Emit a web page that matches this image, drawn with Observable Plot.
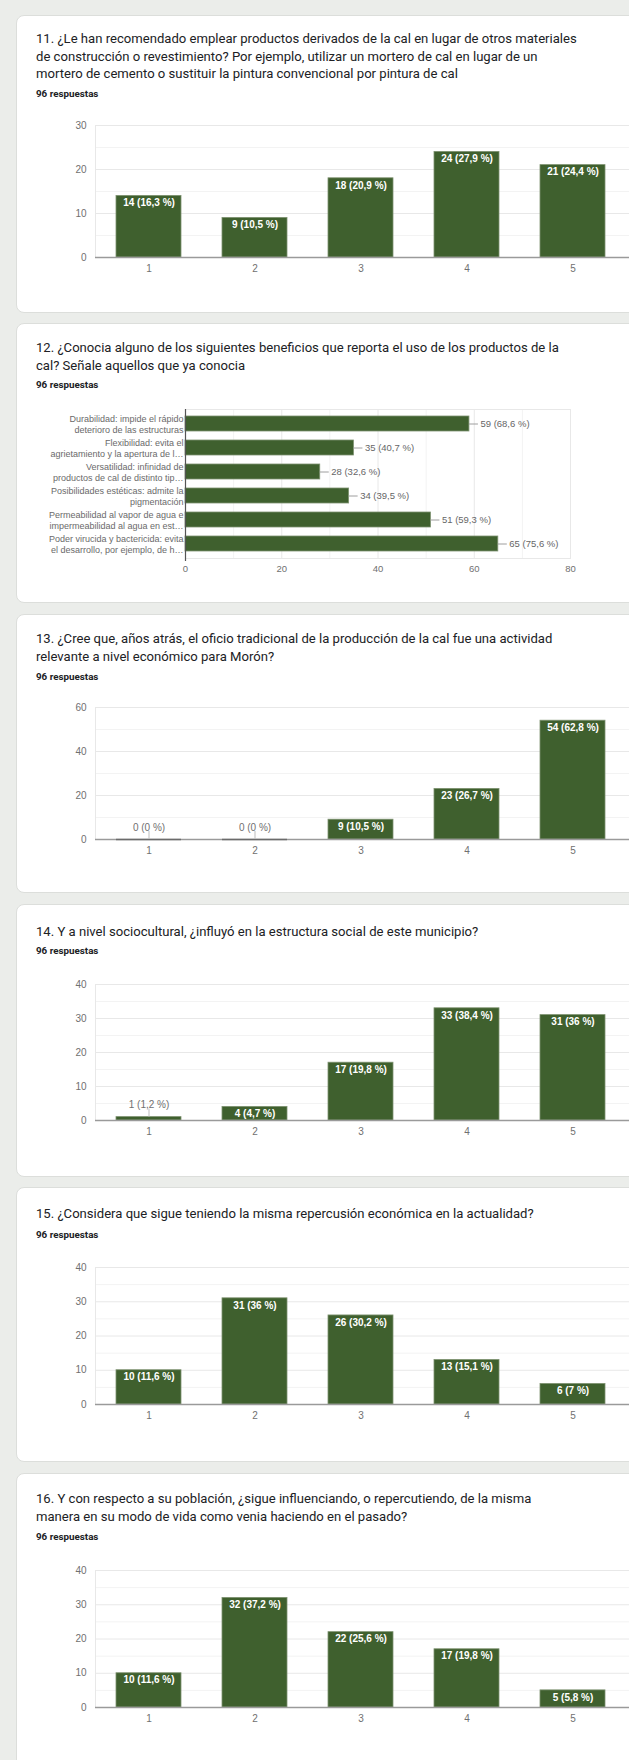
<!DOCTYPE html>
<html>
<head>
<meta charset="utf-8">
<script src="https://cdn.jsdelivr.net/npm/d3@7"></script>
<script src="https://cdn.jsdelivr.net/npm/@observablehq/plot@0.6"></script>
<style>
  html, body { margin: 0; padding: 0; }
  body { width: 629px; height: 1760px; overflow: hidden; background: #ebedea; position: relative; }
  .card { position: absolute; left: 16px; width: 660px; background: #fff; border: 1px solid #dcdedb; border-radius: 8px; box-sizing: border-box; }
  .title { position: absolute; left: 36px; font-family: Roboto, "Open Sans", sans-serif; font-size: 13.1px; line-height: 17.5px; color: #202124; white-space: pre; }
  .resp { position: absolute; left: 36px; font-family: Roboto, sans-serif; font-weight: bold; font-size: 9.8px; line-height: 12px; color: #202124; white-space: pre; }
  .chart { position: absolute; left: 0; }
</style>
</head>
<body>
<script>
// ---------- data ----------
const scale5 = ["1", "2", "3", "4", "5"];

const q11Values = [14, 9, 18, 24, 21];
const q11Pct = ["16,3", "10,5", "20,9", "27,9", "24,4"];

const q12Categories = [
  "Durabilidad: impide el rápido\ndeterioro de las estructuras",
  "Flexibilidad: evita el\nagrietamiento y la apertura de l…",
  "Versatilidad: infinidad de\nproductos de cal de distinto tip…",
  "Posibilidades estéticas: admite la\npigmentación",
  "Permeabilidad al vapor de agua e\nimpermeabilidad al agua en est…",
  "Poder virucida y bactericida: evita\nel desarrollo, por ejemplo, de h…"
];
const q12Values = [59, 35, 28, 34, 51, 65];
const q12Pct = ["68,6", "40,7", "32,6", "39,5", "59,3", "75,6"];

const q13Values = [0, 0, 9, 23, 54];
const q13Pct = ["0", "0", "10,5", "26,7", "62,8"];

const q14Values = [1, 4, 17, 33, 31];
const q14Pct = ["1,2", "4,7", "19,8", "38,4", "36"];

const q15Values = [10, 31, 26, 13, 6];
const q15Pct = ["11,6", "36", "30,2", "15,1", "7"];

const q16Values = [10, 32, 22, 17, 5];
const q16Pct = ["11,6", "37,2", "25,6", "19,8", "5,8"];

const ticks30 = [0, 10, 20, 30], minor30 = [5, 15, 25];
const ticks40 = [0, 10, 20, 30, 40], minor40 = [5, 15, 25, 35];
const ticks60 = [0, 20, 40, 60], minor60 = [10, 30, 50];
const ticks80 = [0, 20, 40, 60, 80], minor80 = [10, 30, 50, 70];

const titles = [
  ["11. ¿Le han recomendado emplear productos derivados de la cal en lugar de otros materiales",
   "de construcción o revestimiento? Por ejemplo, utilizar un mortero de cal en lugar de un",
   "mortero de cemento o sustituir la pintura convencional por pintura de cal"],
  ["12. ¿Conocia alguno de los siguientes beneficios que reporta el uso de los productos de la",
   "cal? Señale aquellos que ya conocia"],
  ["13. ¿Cree que, años atrás, el oficio tradicional de la producción de la cal fue una actividad",
   "relevante a nivel económico para Morón?"],
  ["14. Y a nivel sociocultural, ¿influyó en la estructura social de este municipio?"],
  ["15. ¿Considera que sigue teniendo la misma repercusión económica en la actualidad?"],
  ["16. Y con respecto a su población, ¿sigue influenciando, o repercutiendo, de la misma",
   "manera en su modo de vida como venia haciendo en el pasado?"]
];
const respText = "96 respuestas";

// ---------- layout ----------
const cards = [
  {top: 15, bottom: 313, title: 39, resp: 94},
  {top: 323, bottom: 603, title: 348, resp: 385},
  {top: 614, bottom: 893, title: 639, resp: 677},
  {top: 904, bottom: 1177, title: 932, resp: 951},
  {top: 1187, bottom: 1462, title: 1214, resp: 1235},
  {top: 1473, bottom: 1800, title: 1499, resp: 1537}
];

const BAR = "#3f602e";
const BAR_EDGE = "#7e9270";
const FONT = "'Liberation Sans', Arial, sans-serif";

cards.forEach((c, i) => {
  const card = document.createElement("div");
  card.className = "card";
  card.style.top = c.top + "px";
  card.style.height = (c.bottom - c.top) + "px";
  document.body.appendChild(card);
  const t = document.createElement("div");
  t.className = "title";
  t.textContent = titles[i].join("\n");
  t.style.top = (c.title - 8.75) + "px";
  document.body.appendChild(t);
  const r = document.createElement("div");
  r.className = "resp";
  r.textContent = respText;
  r.style.top = (c.resp - 6) + "px";
  document.body.appendChild(r);
});

function place(svg, top) {
  const wrap = document.createElement("div");
  wrap.className = "chart";
  wrap.style.top = top + "px";
  wrap.appendChild(svg);
  document.body.appendChild(wrap);
}

function columnChart(values, pct, yTicks, yMinor, plotTop, plotBottom) {
  const yMax = yTicks[yTicks.length - 1];
  const data = scale5.map((c, i) => ({cat: c, v: values[i], label: `${values[i]} (${pct[i]} %)`}));
  const mt = 10, mb = 28;
  const plotH = plotBottom - plotTop;
  const ppu = plotH / yMax;
  const inside = data.filter(d => d.v * ppu >= 12);
  const outside = data.filter(d => d.v * ppu < 12);
  const zero = data.filter(d => d.v === 0);
  const svg = Plot.plot({
    width: 629,
    height: mt + plotH + mb,
    marginTop: mt, marginBottom: mb, marginLeft: 95, marginRight: 2,
    style: {fontFamily: FONT, fontSize: "10px", color: "#707070", background: "transparent"},
    x: {domain: scale5, paddingInner: 0.385, paddingOuter: 0.1925, label: null, tickSize: 0, tickPadding: 7},
    y: {domain: [0, yMax], ticks: yTicks, label: null, tickSize: 0, tickPadding: 9},
    marks: [
      Plot.ruleY(yMinor, {stroke: "#f3f3f3", insetRight: -10}),
      Plot.ruleY(yTicks.filter(t => t > 0), {stroke: "#e8e8e8", insetRight: -10}),
      Plot.frame({stroke: "#e8e8e8", insetRight: -10}),
      Plot.barY(data, {x: "cat", y: "v", fill: BAR, stroke: BAR_EDGE, strokeWidth: 0.8}),
      Plot.ruleY([0], {stroke: "#9a9a9a", strokeWidth: 1.3, insetRight: -10}),
      Plot.tickY(zero, {x: "cat", y: "v", stroke: "#6b6b6b", strokeWidth: 1.3}),
      Plot.text(inside, {x: "cat", y: "v", text: "label", dy: 7, fill: "white", fontWeight: "bold", fontSize: 10}),
      Plot.ruleX(outside, {x: "cat", y1: "v", y2: "v", insetTop: 0, insetBottom: 8, stroke: "#bdbdbd"}),
      Plot.text(outside, {x: "cat", y: "v", text: "label", dy: -12, fill: "#707070", fontSize: 10})
    ]
  });
  place(svg, plotTop - mt);
}

function barChart() {
  const data = q12Categories.map((c, i) => ({cat: c, v: q12Values[i], label: `${q12Values[i]} (${q12Pct[i]} %)`}));
  const plotTop = 409, plotBottom = 558, mt = 10, mb = 28;
  const svg = Plot.plot({
    width: 629,
    height: mt + (plotBottom - plotTop) + mb,
    marginTop: mt, marginBottom: mb, marginLeft: 185, marginRight: 59,
    style: {fontFamily: FONT, fontSize: "9.5px", color: "#707070", background: "transparent"},
    x: {domain: [0, 80], ticks: ticks80, label: null, tickSize: 0, tickPadding: 7},
    y: {domain: q12Categories, paddingInner: 0.375, paddingOuter: 0.1875, axis: null},
    marks: [
      Plot.ruleX(minor80, {stroke: "#f3f3f3"}),
      Plot.ruleX(ticks80.filter(t => t > 0), {stroke: "#e8e8e8"}),
      Plot.frame({stroke: "#e8e8e8"}),
      Plot.barX(data, {y: "cat", x: "v", fill: BAR, stroke: BAR_EDGE, strokeWidth: 0.8}),
      Plot.ruleX([0], {stroke: "#555", strokeWidth: 1.2, insetBottom: -3}),
      Plot.ruleY(data, {y: "cat", x1: "v", x2: "v", insetLeft: 0, insetRight: -9, stroke: "#9e9e9e"}),
      Plot.text(data, {y: "cat", x: "v", text: "label", dx: 11, textAnchor: "start", fill: "#666", fontSize: 9.5}),
      Plot.text(data, {y: "cat", frameAnchor: "left", text: "cat", textAnchor: "end", dx: -2, lineHeight: 1.2, fill: "#6a6a6a", fontSize: 9})
    ]
  });
  place(svg, plotTop - mt);
}

columnChart(q11Values, q11Pct, ticks30, minor30, 125, 257);
barChart();
columnChart(q13Values, q13Pct, ticks60, minor60, 707, 839);
columnChart(q14Values, q14Pct, ticks40, minor40, 984, 1120);
columnChart(q15Values, q15Pct, ticks40, minor40, 1267, 1404);
columnChart(q16Values, q16Pct, ticks40, minor40, 1570, 1707);
</script>
</body>
</html>
